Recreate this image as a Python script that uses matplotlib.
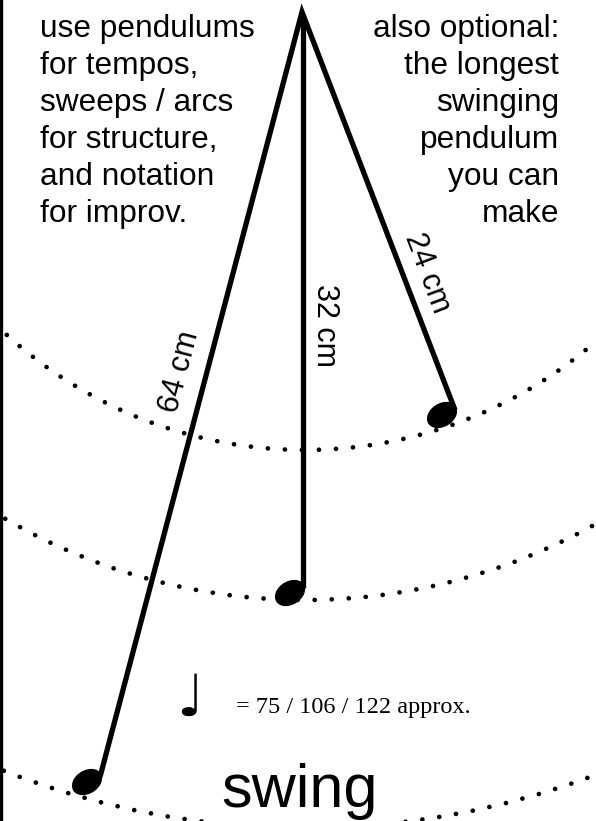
import matplotlib
matplotlib.use('Agg')
import matplotlib.pyplot as plt
from matplotlib.patches import Arc, Ellipse

# pendulum data (pixel-like units, y grows downward)
pivot_x, pivot_y = 302, 12
pendulum_labels = ['64 cm', '32 cm', '24 cm']
end_x = [100, 303, 455]
end_y = [777, 588, 410]
arc_center = (305, 6)
arc_radii = [444, 594, 822]
tempos = [75, 106, 122]

left_lines = ['use pendulums', 'for tempos,', 'sweeps / arcs',
              'for structure,', 'and notation', 'for improv.']
right_lines = ['also optional:', 'the longest', 'swinging',
               'pendulum', 'you can', 'make']

W, H = 596, 821
fig = plt.figure(figsize=(W / 100, H / 100), dpi=100)
ax = fig.add_axes([0, 0, 1, 1])
ax.set_xlim(0, W)
ax.set_ylim(H, 0)
ax.set_aspect('equal')
ax.axis('off')

sans = 'Liberation Sans'

# dotted swing arcs
for r in arc_radii:
    arc = Arc(arc_center, 2 * r, 2 * r, theta1=20, theta2=160,
              lw=3.4, ls=(0, (0.01, 3.6)), color='black')
    arc.set_capstyle('round')
    ax.add_patch(arc)

# strings: outer two share the pivot with a sharp join
ax.plot([end_x[0], pivot_x, end_x[2]], [end_y[0], pivot_y, end_y[2]],
        color='black', lw=3.8, solid_joinstyle='miter', solid_capstyle='butt')
ax.plot([end_x[1], end_x[1]], [pivot_y + 2, end_y[1]],
        color='black', lw=3.8, solid_capstyle='butt')

# note heads at the ends
for x, y in zip(end_x, end_y):
    ax.add_patch(Ellipse((x - 13, y + 5), 31, 22, angle=-32, color='black'))

# string labels
ax.text(180, 372, pendulum_labels[0], rotation=75.3, rotation_mode='anchor',
        ha='center', va='center', fontsize=22, family=sans)
ax.text(325, 326, pendulum_labels[1], rotation=-90, rotation_mode='anchor',
        ha='center', va='center', fontsize=22, family=sans)
ax.text(427, 273, pendulum_labels[2], rotation=-69.4, rotation_mode='anchor',
        ha='center', va='center', fontsize=22, family=sans)

# side notes
for i, s in enumerate(left_lines):
    ax.text(40, 37 + 37 * i, s, ha='left', va='baseline', fontsize=22.8, family=sans)
for i, s in enumerate(right_lines):
    ax.text(559, 37 + 37 * i, s, ha='right', va='baseline', fontsize=22.8, family=sans)

# tempo marking
ax.text(176, 716, '\u2669', ha='left', va='baseline', fontsize=42, family='DejaVu Sans')
ax.text(236, 713, '= ' + ' / '.join(str(t) for t in tempos) + ' approx.',
        ha='left', va='baseline', fontsize=17.5, family='Liberation Serif')

ax.text(300, 807, 'swing', ha='center', va='baseline', fontsize=44, family=sans)

# left border
ax.axvline(1.3, color='black', lw=2.4)

fig.savefig('out.png', dpi=100)
